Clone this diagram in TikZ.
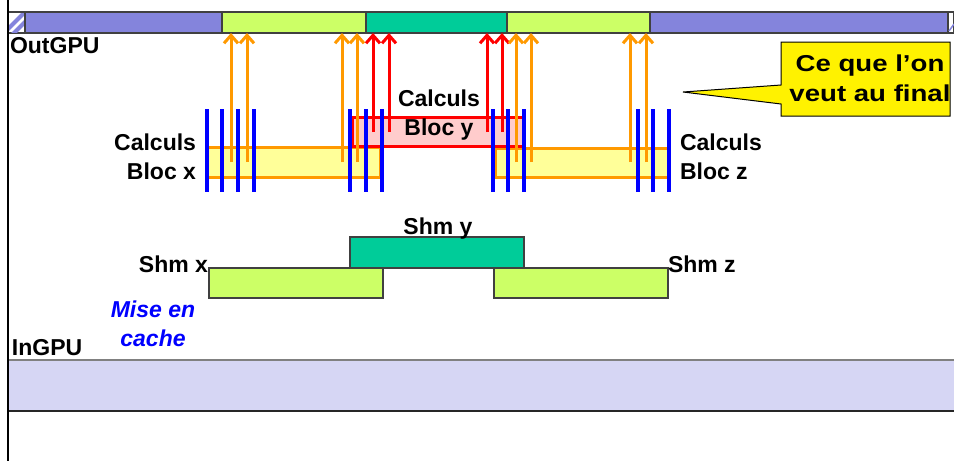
\documentclass[tikz,border=0pt]{standalone}
\usepackage{fontspec}
\setmainfont{Liberation Sans}
\newfontfamily\widefont[FakeStretch=1.2]{Liberation Sans}
\usetikzlibrary{arrows.meta}

\definecolor{barblue}{HTML}{8484DC}
\definecolor{shmgreen}{HTML}{CCFF66}
\definecolor{shmteal}{HTML}{00CC99}
\definecolor{inlav}{HTML}{D6D6F4}
\definecolor{calcorange}{HTML}{FF9900}
\definecolor{calcyellow}{HTML}{FFFF99}
\definecolor{calcpink}{HTML}{FFCCCC}

\tikzset{
  seg/.style={draw=black!75, line width=1.2pt, inner sep=0, outer sep=0, anchor=north west, minimum height=21pt},
  calc/.style={seg, line width=3pt, minimum height=30pt},
  lbl/.style={font=\bfseries\fontsize{23}{29}\selectfont, inner sep=0, outer sep=0},
  orarr/.style={calcorange, line width=3pt, -{Straight Barb[length=8pt,width=14pt]}},
  redarr/.style={orarr, red},
  thread/.style={blue, line width=3.2pt},
}

\begin{document}
\begin{tikzpicture}[x=1pt, y=-1pt]
\useasboundingbox (0,0) rectangle (954,461);

% output bar
\node[seg, fill=white, minimum width=17pt] (hatl) at (8,12) {};
\begin{scope}
  \clip (8,12) rectangle (25,33);
  \draw[barblue, line width=4pt] (0,37) -- (25,12) (10,37) -- (35,12);
\end{scope}
\draw[black!75] (hatl.north west) rectangle (hatl.south east);
\node[seg, fill=barblue, minimum width=197pt] (outl) at (25,12) {};
\node[seg, fill=shmgreen, minimum width=144pt] (outx) at (222,12) {};
\node[seg, fill=shmteal, minimum width=141pt] (outy) at (366,12) {};
\node[seg, fill=shmgreen, minimum width=143pt] (outz) at (507,12) {};
\node[seg, fill=barblue, minimum width=298pt] (outr) at (650,12) {};
\node[seg, fill=white, minimum width=6pt] (hatr) at (948,12) {};
\draw[barblue, line width=1.5pt] (949,31) -- (954,24);
\node[lbl, anchor=base west] (outgpu) at (10,53) {OutGPU};

% input bar
\fill[inlav] (8,360) rectangle (954,411);
\coordinate (inl) at (8,360);
\coordinate (inr) at (954,360);
\draw[black!50, line width=1.2pt] (inl) -- (inr);
\draw[black!85, line width=1.2pt] (8,411) -- (954,411);
\node[lbl, anchor=base west] (ingpu) at (12,355) {InGPU};

\draw[line width=2.4pt] (8,0) -- (8,461);

% calculation blocks
\node[calc, fill=calcyellow, draw=calcorange, minimum width=173pt] (blocx) at (207,147) {};
\node[calc, fill=calcyellow, draw=calcorange, minimum width=173pt, minimum height=29pt] (blocz) at (495,148) {};
\node[calc, fill=calcpink, draw=red, minimum width=172pt, minimum height=29pt] (blocy) at (352,117) {};

\draw[orarr] (231,162) -- (231,0 |- outx.south);
\draw[orarr] (247,162) -- (247,0 |- outx.south);
\draw[orarr] (342,162) -- (342,0 |- outx.south);
\draw[orarr] (357,162) -- (357,0 |- outx.south);
\draw[redarr] (373,132) -- (373,0 |- outy.south);
\draw[redarr] (389,132) -- (389,0 |- outy.south);
\draw[redarr] (487,132) -- (487,0 |- outy.south);
\draw[redarr] (502,132) -- (502,0 |- outy.south);
\draw[orarr] (516,162) -- (516,0 |- outz.south);
\draw[orarr] (531,162) -- (531,0 |- outz.south);
\draw[orarr] (630,162) -- (630,0 |- outz.south);
\draw[orarr] (646,162) -- (646,0 |- outz.south);

% threads
\draw[thread] (207,109) -- (207,192) (222,109) -- (222,192) (238,109) -- (238,192) (254,109) -- (254,192);
\draw[thread] (350,109) -- (350,192) (366,109) -- (366,192) (382,109) -- (382,192);
\draw[thread] (493,109) -- (493,192) (508,109) -- (508,192) (524,109) -- (524,192);
\draw[thread] (638,109) -- (638,192) (653,109) -- (653,192) (669,109) -- (669,192);

\node[lbl, align=right, anchor=north east] (calcx) at (196,134) {Calculs\\Bloc x};
\node[lbl, align=center, anchor=north] (calcy) at (439,90) {Calculs\\Bloc y};
\node[lbl, align=left, anchor=north west] (calcz) at (680,134) {Calculs\\Bloc z};

% shared memory
\node[seg, fill=shmteal, minimum width=174pt, minimum height=31pt] (shmy) at (350,237) {};
\node[seg, fill=shmgreen, minimum width=174pt, minimum height=30pt] (shmx) at (209,268) {};
\node[seg, fill=shmgreen, minimum width=174pt, minimum height=30pt] (shmz) at (494,268) {};
\node[lbl, anchor=base east] (shmxl) at (208,272) {Shm x};
\node[lbl, anchor=base] (shmyl) at (438,234) {Shm y};
\node[lbl, anchor=base west] (shmzl) at (668,272) {Shm z};
\node[lbl, blue, font=\bfseries\itshape\fontsize{23}{29}\selectfont, align=center, anchor=north] (cache) at (153,301) {Mise en\\cache};

% callout
\draw[fill=yellow, line width=1pt] (781,42) -- (950,42) -- (950,116) -- (781,116) -- (781,104) -- (683,92) -- (781,85) -- cycle;
\node[lbl, font=\widefont\bfseries\fontsize{23}{30}\selectfont, align=center, anchor=north] (final) at (870,55) {Ce que l’on\\veut au final};
\end{tikzpicture}
\end{document}
